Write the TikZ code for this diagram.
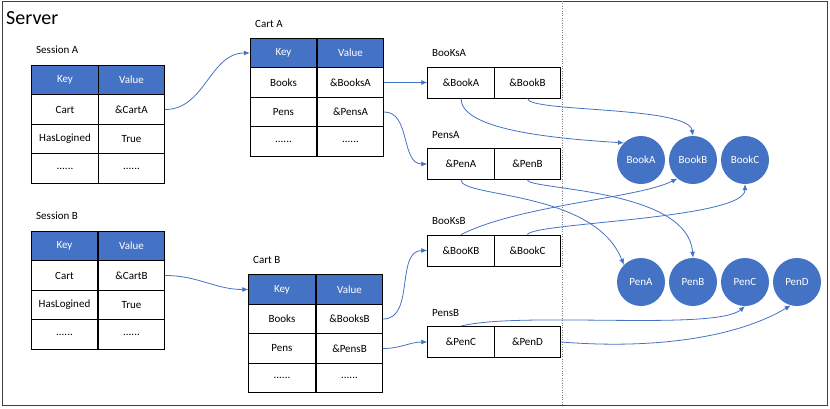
\documentclass[tikz,border=0pt]{standalone}
\usepackage{fontspec}
\setmainfont{Carlito}
\usetikzlibrary{arrows.meta}
\definecolor{bleu}{HTML}{4472C4}
\newcommand{\vide}{......}

\begin{document}
\begin{tikzpicture}[x=1pt, y=-1pt,
    txt/.style={font=\fontsize{11}{13}\selectfont},
    cell/.style={txt, draw, line width=0.9pt, minimum width=66.5pt, minimum height=29.5pt, inner sep=0pt},
    hcell/.style={cell, fill=bleu, text=white},
    slot/.style={cell, minimum height=31pt},
    obj/.style={txt, circle, fill=bleu, text=white, minimum size=48pt, inner sep=0pt},
    lbl/.style={txt, anchor=west, inner sep=0pt},
    ptr/.style={draw=bleu, line width=0.8pt, -{Latex[length=6pt,width=5pt]}}]
    \useasboundingbox (0,0) rectangle (830,408);

    % Cadre du serveur
    \draw[line width=1pt, black!75] (2.5,1) rectangle (827,405);
    \draw[gray, dotted] (562,1) -- (562,405);
    \node[anchor=west, inner sep=0pt, font=\fontsize{20}{24}\selectfont] (server) at (6,18) {Server};

    % Session A
    \node[lbl] (sa-lbl) at (36,50) {Session A};
    \node[hcell] (sa-k0) at (65,80) {Key};
    \node[hcell] (sa-v0) at (131.5,80) {Value};
    \foreach \k/\v [count=\i] in {Cart/\&CartA, HasLogined/True, \vide/\vide} {
        \node[cell] (sa-k\i) at (65,80+29.5*\i) {\k};
        \node[cell] (sa-v\i) at (131.5,80+29.5*\i) {\v};
    }

    % Session B
    \node[lbl] (sb-lbl) at (36,216) {Session B};
    \node[hcell] (sb-k0) at (64.5,246) {Key};
    \node[hcell] (sb-v0) at (131.5,246) {Value};
    \foreach \k/\v [count=\i] in {Cart/\&CartB, HasLogined/True, \vide/\vide} {
        \node[cell] (sb-k\i) at (64.5,246+29.5*\i) {\k};
        \node[cell] (sb-v\i) at (131.5,246+29.5*\i) {\v};
    }

    % Cart A
    \node[lbl] (ca-lbl) at (255,24) {Cart A};
    \node[hcell] (ca-k0) at (283.5,53) {Key};
    \node[hcell] (ca-v0) at (350.5,53) {Value};
    \foreach \k/\v [count=\i] in {Books/\&BooksA, Pens/\&PensA, \vide/\vide} {
        \node[cell] (ca-k\i) at (283.5,53+29.5*\i) {\k};
        \node[cell] (ca-v\i) at (350.5,53+29.5*\i) {\v};
    }

    % Cart B
    \node[lbl] (cb-lbl) at (253,260) {Cart B};
    \node[hcell] (cb-k0) at (282,289.5) {Key};
    \node[hcell] (cb-v0) at (349.5,289.5) {Value};
    \foreach \k/\v [count=\i] in {Books/\&BooksB, Pens/\&PensB, \vide/\vide} {
        \node[cell] (cb-k\i) at (282,289.5+29.5*\i) {\k};
        \node[cell] (cb-v\i) at (349.5,289.5+29.5*\i) {\v};
    }

    % Tableaux de pointeurs
    \node[lbl] (ba-lbl) at (432,53) {BooKsA};
    \node[slot] (ba-1) at (461,82.5) {\&BookA};
    \node[slot] (ba-2) at (527.5,82.5) {\&BookB};
    \node[lbl] (pa-lbl) at (432,135) {PensA};
    \node[slot] (pa-1) at (461,164) {\&PenA};
    \node[slot] (pa-2) at (527.5,164) {\&PenB};
    \node[lbl] (bb-lbl) at (432,221) {BooKsB};
    \node[slot] (bb-1) at (461,250.5) {\&BooKB};
    \node[slot] (bb-2) at (527.5,250.5) {\&BookC};
    \node[lbl] (pb-lbl) at (432,313) {PensB};
    \node[slot] (pb-1) at (461,342) {\&PenC};
    \node[slot] (pb-2) at (527.5,342) {\&PenD};

    % Objets
    \node[obj] (BookA) at (641,160) {BookA};
    \node[obj] (BookB) at (693,160) {BookB};
    \node[obj] (BookC) at (745,160) {BookC};
    \node[obj] (PenA) at (641,282) {PenA};
    \node[obj] (PenB) at (693,282) {PenB};
    \node[obj] (PenC) at (745,282) {PenC};
    \node[obj] (PenD) at (797,282) {PenD};

    % Pointeurs
    \draw[ptr] (sa-v1.east) to[out=0,in=180] (ca-k0.west);
    \draw[ptr] (sb-v1.east) to[out=0,in=180] (cb-k0.west);
    \draw[ptr] (ca-v1.east) -- (ba-1.west);
    \draw[ptr] (ca-v2.east) to[out=0,in=180] (pa-1.west);
    \draw[ptr] (cb-v1.east) to[out=0,in=180] (bb-1.west);
    \draw[ptr] (cb-v2.east) to[out=0,in=180] (pb-1.west);
    \draw[ptr] (ba-1.south) .. controls +(0,30) and +(-80,-5) .. (BookA.135);
    \draw[ptr] (ba-2.south) .. controls +(0,14) and +(-5,-30) .. (BookB.north);
    \draw[ptr] (pa-1.south) .. controls +(0,18) and +(-30,-75) .. (PenA.135);
    \draw[ptr] (pa-2.south) .. controls +(0,10) and +(-5,-70) .. (PenB.north);
    \draw[ptr] (bb-1.north) .. controls +(60,-30) and +(-40,20) .. (BookB.230);
    \draw[ptr] (bb-2.north) .. controls +(5,-12) and +(0,35) .. (BookC.south);
    \draw[ptr] (pb-1.north) .. controls +(60,-15) and +(-30,25) .. (PenC.south);
    \draw[ptr] (pb-2.east) .. controls +(100,8) and +(-50,30) .. (PenD.255);
\end{tikzpicture}
\end{document}
